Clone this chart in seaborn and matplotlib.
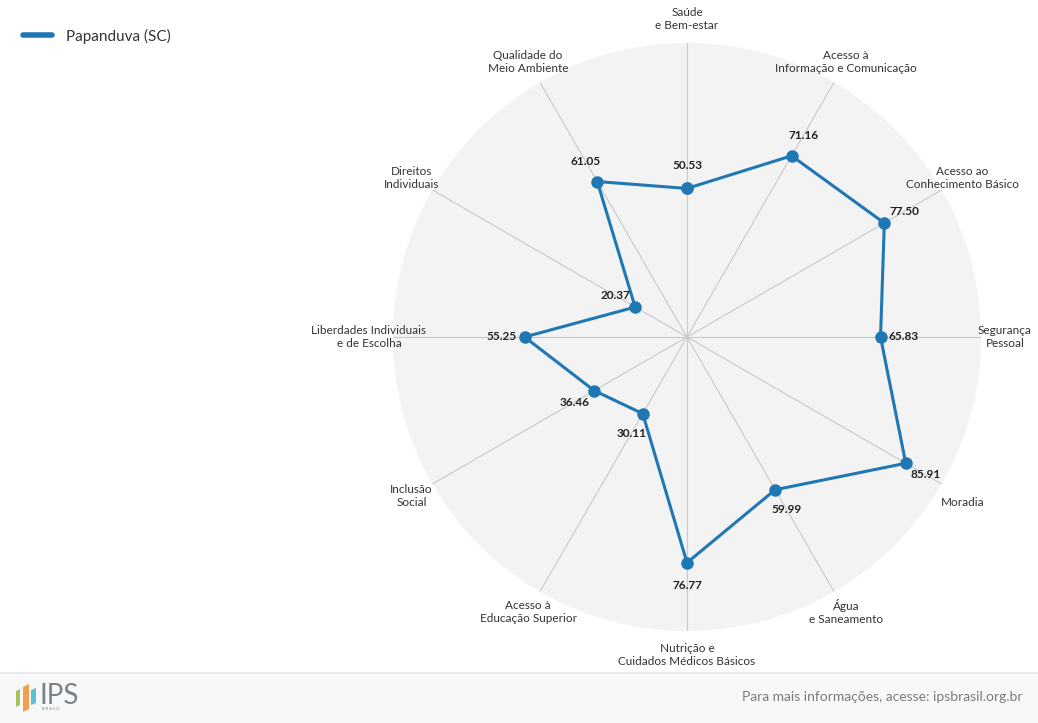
import numpy as np
import matplotlib
matplotlib.use("Agg")
import matplotlib.pyplot as plt
from matplotlib.lines import Line2D
from matplotlib.patches import Rectangle, Polygon
import seaborn as sns
import pandas as pd

# data (clockwise from the top)
categories = [
    "Saúde\ne Bem-estar",
    "Acesso à\nInformação e Comunicação",
    "Acesso ao\nConhecimento Básico",
    "Segurança\nPessoal",
    "Moradia",
    "Água\ne Saneamento",
    "Nutrição e\nCuidados Médicos Básicos",
    "Acesso à\nEducação Superior",
    "Inclusão\nSocial",
    "Liberdades Individuais\ne de Escolha",
    "Direitos\nIndividuais",
    "Qualidade do\nMeio Ambiente",
]
values = [50.53, 71.16, 77.50, 65.83, 85.91, 59.99, 76.77, 30.11, 36.46, 55.25, 20.37, 61.05]
series_name = "Papanduva (SC)"

sns.set_theme(style="white")
plt.rcParams["font.family"] = ["Lato", "DejaVu Sans"]

BLUE = sns.color_palette("tab10")[0]
TXT = "#333333"

W, H = 1038, 723
fig = plt.figure(figsize=(W / 100, H / 100), dpi=100)
fig.patch.set_facecolor("white")

# polar area: centre (687, 337) px, radius 294 px
cx, cy, rad = 687, 337, 294
ax = fig.add_axes([(cx - rad) / W, (H - cy - rad) / H, 2 * rad / W, 2 * rad / H],
                  projection="polar")
ax.set_theta_zero_location("N")
ax.set_theta_direction(-1)
ax.set_facecolor("#f3f3f3")
ax.spines["polar"].set_visible(False)

n = len(categories)
theta = np.arange(n) * 2 * np.pi / n
df = pd.DataFrame({"theta": np.append(theta, 2 * np.pi),
                   "value": values + values[:1]})

ax.set_ylim(0, 100)
ax.set_yticks([])
ax.set_xticks(theta)
ax.set_xticklabels([])
ax.xaxis.grid(True, color="#c9c9c9", linewidth=0.8)
ax.yaxis.grid(False)

sns.lineplot(data=df, x="theta", y="value", ax=ax, sort=False, estimator=None,
             color=BLUE, linewidth=2.2, marker="o", markersize=9,
             markeredgewidth=0, legend=False)
ax.set_xlabel("")
ax.set_ylabel("")

px2pt = 72 / 100
for t, lab in zip(theta, categories):
    dx = 24 * np.sin(t)
    dy = 24 * np.cos(t)
    if "\n" not in lab and np.cos(t) < 0:
        dy -= 7  # single-line labels in the lower half sit a bit lower
    ax.annotate(lab, xy=(t, 100), xytext=(dx * px2pt, dy * px2pt),
                textcoords="offset points", ha="center", va="center",
                fontsize=8.5, color=TXT, linespacing=1.2, annotation_clip=False)

for t, v in zip(theta, values):
    ax.annotate(f"{v:.2f}", xy=(t, v), xytext=(23 * px2pt * np.sin(t), 23 * px2pt * np.cos(t)),
                textcoords="offset points", ha="center", va="center",
                fontsize=8.5, fontweight="bold", color="#222222", annotation_clip=False)

# legend
handle = Line2D([], [], color=BLUE, linewidth=4, solid_capstyle="round")
fig.legend([handle], [series_name], loc="center left", bbox_to_anchor=(23 / W, 1 - 36 / H),
           frameon=False, fontsize=11, handlelength=1.9, handletextpad=0.9,
           borderpad=0, borderaxespad=0, labelcolor=TXT)

# footer band
fig.add_artist(Rectangle((0, 0), 1, 50 / H, transform=fig.transFigure,
                         facecolor="#f7f8fa", edgecolor="none"))
fig.add_artist(Line2D([0, 1], [50 / H, 50 / H], transform=fig.transFigure,
                      color="#e9ebee", linewidth=1.5))
fig.text(1 - 16 / W, 26 / H, "Para mais informações, acesse: ipsbrasil.org.br",
         ha="right", va="center", fontsize=10, color="#7a7a7a")

# IPS logo
def px(x, y):
    return (x / W, 1 - y / H)

for pts, col in [([(16, 691), (20, 689), (20, 705), (16, 707)], "#a9c25d"),
                 ([(23, 687), (29, 684), (29, 709), (23, 712)], "#f2a04e"),
                 ([(31, 690), (36, 688), (36, 703), (31, 705)], "#5bc0de")]:
    fig.add_artist(Polygon([px(*p) for p in pts], closed=True, transform=fig.transFigure,
                           facecolor=col, edgecolor="none"))
fig.text(*px(39, 696), "IPS", ha="left", va="center", fontsize=20, color="#7c8288")
fig.text(*px(42, 709), "B R A S I L", ha="left", va="center", fontsize=3, color="#7c8288")

fig.savefig("out.png", dpi=100)
